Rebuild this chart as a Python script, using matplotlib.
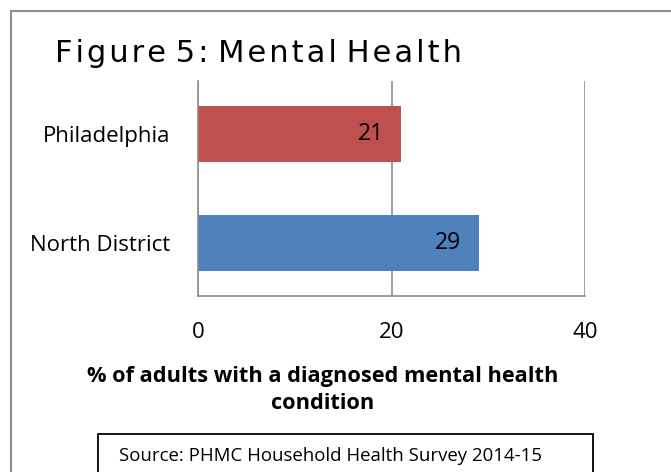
import matplotlib.pyplot as plt
from matplotlib.patches import Rectangle

# data
categories = ["North District", "Philadelphia"]
values = [29, 21]
bar_colors = ["#4F81BD", "#C0504D"]
x_ticks = [0, 20, 40]

title = "Figure 5: Mental Health"
xlabel = "% of adults with a diagnosed mental health\ncondition"
source = "Source: PHMC Household Health Survey 2014-15"

W, H = 671, 472
fig = plt.figure(figsize=(W / 100, H / 100), dpi=100)

# outer chart border
fig.patches.append(Rectangle((11 / W, -0.05), (W - 8) / W, 1.05 - 11 / H,
                             transform=fig.transFigure, fill=False,
                             edgecolor="#8c8c8c", linewidth=1.5))

ax = fig.add_axes([198 / W, 1 - 296 / H, 387 / W, 215 / H])
ypos = list(range(len(categories)))
ax.barh(ypos, values, height=0.52, color=bar_colors, zorder=2)
for y, v in zip(ypos, values):
    ax.text(v - 1.8, y, str(v), ha="right", va="center", fontsize=16.5,
            family="Open Sans", zorder=3)

ax.set_xlim(0, 40)
ax.set_ylim(-0.49, 1.49)
ax.set_xticks(x_ticks)
ax.set_yticks(ypos)
ax.set_yticklabels(categories, family="Open Sans", fontsize=16)
ax.tick_params(axis="both", length=0)
ax.tick_params(axis="y", pad=20)
ax.tick_params(axis="x", pad=19, labelsize=16)
for lbl in ax.get_xticklabels():
    lbl.set_family("Open Sans")
ax.xaxis.grid(True, color="#8c8c8c", linewidth=1.2, zorder=1)
for side in ["top", "right"]:
    ax.spines[side].set_visible(False)
for side in ["left", "bottom"]:
    ax.spines[side].set_color("#8c8c8c")
    ax.spines[side].set_linewidth(1.2)

# title is set wide in the original, so hair spaces go between the letters
wide_title = " ".join("\u200a".join(w) for w in title.split(" "))
fig.text(55 / W, 1 - 62 / H, wide_title, fontsize=22,
         family="DejaVu Sans", va="baseline", ha="left")
fig.text(323 / W, 1 - 390 / H, xlabel, fontsize=15.7, family="Open Sans",
         weight="bold", ha="center", va="center", linespacing=1.35)

fig.patches.append(Rectangle((98 / W, -0.05), (593 - 98) / W, 1.05 - 434 / H,
                             transform=fig.transFigure, fill=False,
                             edgecolor="black", linewidth=1.3))
fig.text(119 / W, 1 - 461 / H, source, fontsize=13.4, family="Open Sans",
         ha="left", va="baseline")

fig.savefig("out.png", dpi=100)
